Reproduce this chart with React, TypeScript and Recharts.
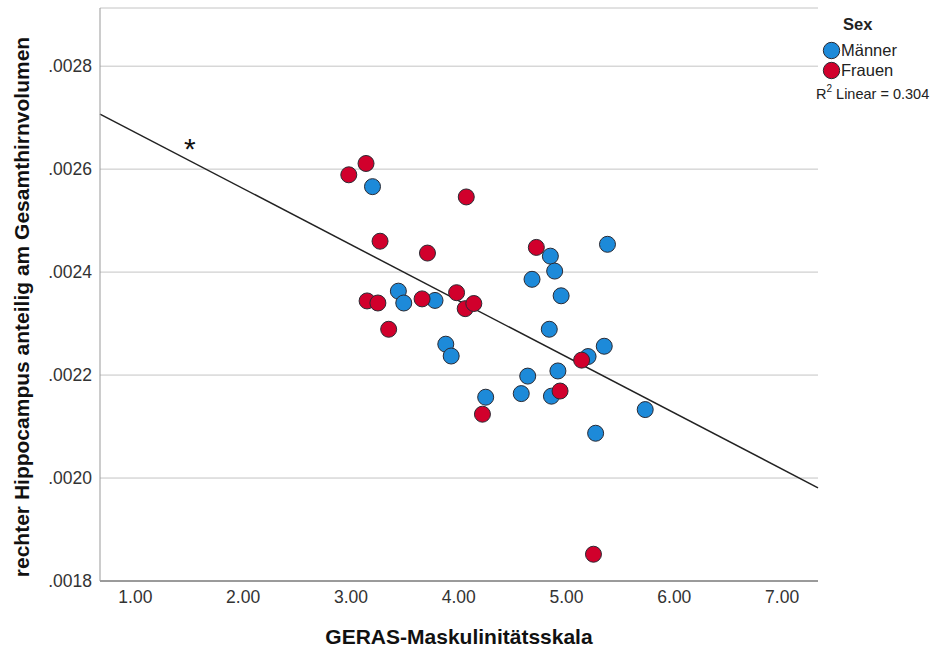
import {
  ScatterChart, Scatter, XAxis, YAxis, CartesianGrid, ReferenceLine
} from 'recharts'

// values, x = GERAS score, y = volume share
const maennerX = [3.20, 3.44, 3.49, 3.78, 3.88, 3.93, 4.25, 4.58, 4.64, 4.86, 4.92, 4.68, 4.85, 4.89, 4.95, 4.84, 5.20, 5.35, 5.38, 5.27, 5.73]
const maennerY = [0.002566, 0.002363, 0.002340, 0.002345, 0.002260, 0.002237, 0.002157, 0.002164, 0.002198, 0.002159, 0.002208, 0.002386, 0.002431, 0.002402, 0.002354, 0.002289, 0.002236, 0.002256, 0.002454, 0.002087, 0.002133]

const frauenX = [2.98, 3.14, 4.07, 3.27, 3.71, 3.15, 3.25, 3.35, 3.66, 3.98, 4.06, 4.14, 4.22, 4.72, 5.14, 4.94, 5.25]
const frauenY = [0.002589, 0.002611, 0.002546, 0.002460, 0.002437, 0.002344, 0.002340, 0.002289, 0.002348, 0.002360, 0.002329, 0.002339, 0.002124, 0.002448, 0.002229, 0.002169, 0.001852]

// fit line end points + asterisk marker
const fitLine = [{ x: 0.672, y: 0.002707 }, { x: 7.333, y: 0.001981 }]
const starMark = [{ x: 1.506, y: 0.002644 }]

const xTicks = [1, 2, 3, 4, 5, 6, 7]
const yTicks = [0.0018, 0.002, 0.0022, 0.0024, 0.0026, 0.0028]

const maenner = maennerX.map((x, i) => ({ x, y: maennerY[i] }))
const frauen = frauenX.map((x, i) => ({ x, y: frauenY[i] }))

const BLUE = '#1d8ad9'
const RED = '#d1002c'
const FONT = '"Liberation Sans", Arial, sans-serif'

function dot(fill: string) {
  return (p: any) => (
    <circle cx={p.cx} cy={p.cy} r={8} fill={fill} stroke="#2a2a33" strokeWidth={1} />
  )
}

export default function App() {
  return (
    <div style={{ position: 'absolute', left: 0, top: 0, width: 932, height: 648, background: '#fff', fontFamily: FONT }}>
      <ScatterChart width={932} height={648} margin={{ top: 8, right: 114, left: 0, bottom: 0 }}>
        <CartesianGrid horizontal vertical={false} stroke="#c4c4c4" />
        <XAxis
          type="number"
          dataKey="x"
          domain={[0.672, 7.333]}
          ticks={xTicks}
          tickFormatter={(v: number) => v.toFixed(2)}
          tick={{ fill: '#333', fontSize: 17.5, fontFamily: FONT }}
          tickLine={false}
          tickMargin={4}
          axisLine={{ stroke: '#555' }}
          height={67}
          label={{
            content: () => (
              <text x={459} y={644} textAnchor="middle" fill="#111" fontSize={21} fontWeight="bold" fontFamily={FONT}>
                GERAS-Maskulinitätsskala
              </text>
            ),
          }}
        />
        <YAxis
          type="number"
          dataKey="y"
          domain={[0.0018, 0.002913]}
          ticks={yTicks}
          tickFormatter={(v: number) => v.toFixed(4).replace(/^0/, '')}
          tick={{ fill: '#333', fontSize: 17.5, fontFamily: FONT }}
          tickLine={false}
          axisLine={{ stroke: '#999' }}
          width={100}
          label={{
            content: () => (
              <text
                x={29}
                y={307}
                transform="rotate(-90 29 307)"
                textAnchor="middle"
                fill="#111"
                fontSize={21}
                fontWeight="bold"
                fontFamily={FONT}
              >
                rechter Hippocampus anteilig am Gesamthirnvolumen
              </text>
            ),
          }}
        />
        <Scatter data={maenner} shape={dot(BLUE)} isAnimationActive={false} />
        <Scatter data={frauen} shape={dot(RED)} isAnimationActive={false} />
        <ReferenceLine
          segment={fitLine}
          stroke="#222"
          strokeWidth={1.5}
          ifOverflow="visible"
        />
        <Scatter
          data={starMark}
          isAnimationActive={false}
          shape={(p: any) => (
            <text x={p.cx} y={p.cy + 13} textAnchor="middle" fontSize={30} fill="#111" fontFamily={FONT}>*</text>
          )}
        />
      </ScatterChart>

      <div style={{ position: 'absolute', left: 816, top: 15, color: '#222', fontFamily: FONT }}>
        <div style={{ fontWeight: 'bold', fontSize: 16.5, marginLeft: 27, height: 25 }}>Sex</div>
        {[{ name: 'Männer', color: BLUE }, { name: 'Frauen', color: RED }].map(s => (
          <div key={s.name} style={{ display: 'flex', alignItems: 'center', height: 20, fontSize: 16.5 }}>
            <svg width={19} height={19} style={{ marginLeft: 6 }}>
              <circle cx={9.5} cy={9.5} r={8.2} fill={s.color} stroke="#2a2a33" strokeWidth={1} />
            </svg>
            <span style={{ marginLeft: 0 }}>{s.name}</span>
          </div>
        ))}
        <div style={{ fontSize: 14.5, marginTop: 6, whiteSpace: 'nowrap' }}>
          R<sup style={{ fontSize: 10, verticalAlign: 'top', position: 'relative', top: -3 }}>2</sup> Linear = 0.304
        </div>
      </div>
    </div>
  )
}
